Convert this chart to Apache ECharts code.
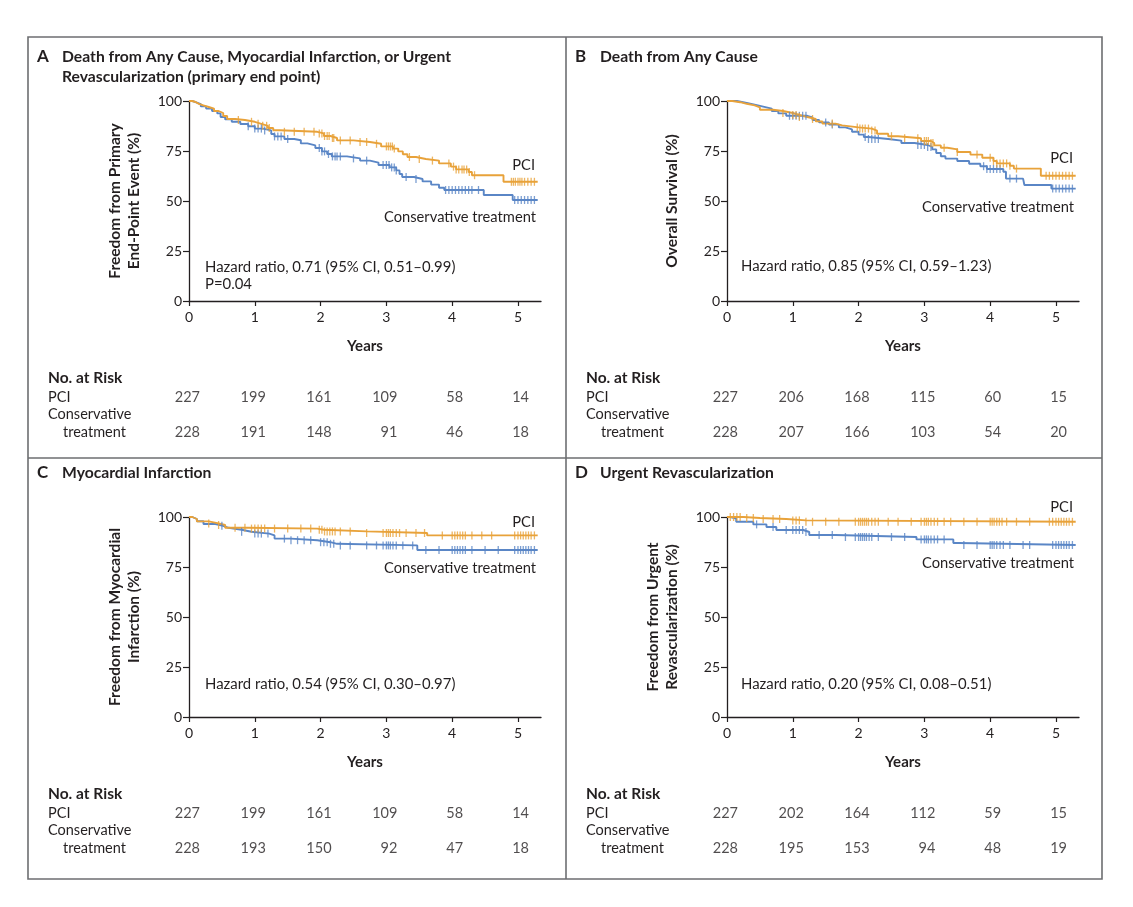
<!DOCTYPE html>
<html><head><meta charset="utf-8">
<script src="https://cdn.jsdelivr.net/npm/echarts@6/dist/echarts.min.js"></script>
<style>html,body{margin:0;padding:0;background:#fff}#c{width:1133px;height:907px}</style>
</head><body><div id="c"></div>
<script>
// ---------- data ----------
const yearTicks = [0, 1, 2, 3, 4, 5];
const pctTicks = [0, 25, 50, 75, 100];
const groupNames = ['PCI', 'Conservative treatment'];

// Panel A: primary end point
const aPCI = [[0,100],[0.05,99.5],[0.1,98.6],[0.15,97.8],[0.22,97],[0.3,96.2],[0.38,95],[0.45,94],[0.52,92.5],[0.58,91],[0.7,90.5],[0.85,89.6],[1.0,88.6],[1.1,87.6],[1.2,86.5],[1.28,85.4],[1.38,84.6],[1.95,83.8],[2.05,82.5],[2.15,81.5],[2.25,80.3],[2.5,79.5],[2.75,78.6],[2.92,77.3],[3.1,76.2],[3.18,74.8],[3.25,73.4],[3.32,72],[3.45,71],[3.6,70.2],[3.8,68.8],[3.98,67.2],[4.06,65.8],[4.25,64.5],[4.3,62.9],[4.78,59.6],[5.3,59.6]];
const aCons = [[0,100],[0.05,99.4],[0.1,98.4],[0.18,97.3],[0.26,96.2],[0.35,95],[0.43,93.8],[0.48,92],[0.55,90.8],[0.65,89.6],[0.78,88.5],[0.9,87.4],[1.0,86.2],[1.12,85.3],[1.25,83.5],[1.3,82.3],[1.45,81],[1.6,80.4],[1.7,78.8],[1.8,77.8],[1.92,76.5],[2.02,74.8],[2.1,73.5],[2.17,72.3],[2.4,71.3],[2.6,70.2],[2.75,69.2],[2.88,68],[3.05,66.8],[3.15,65.3],[3.2,63.5],[3.24,62],[3.42,61],[3.55,59.8],[3.68,58.2],[3.8,56.6],[3.88,55.5],[4.48,53],[4.92,50.5],[5.3,50.5]];
const aPCICensor = [0.75,0.95,1.05,1.12,1.18,1.22,1.45,1.6,1.75,1.9,1.98,2.02,2.06,2.1,2.13,2.18,2.2,2.3,2.45,2.6,2.7,2.85,3.0,3.03,3.06,3.09,3.12,3.35,3.5,3.7,3.95,4.02,4.06,4.1,4.15,4.18,4.22,4.26,4.34,4.9,4.93,4.96,5.0,5.03,5.06,5.1,5.15,5.2,5.25];
const aConsCensor = [0.9,1.0,1.05,1.1,1.15,1.3,1.35,1.4,1.5,1.98,2.02,2.06,2.12,2.18,2.22,2.25,2.3,2.5,2.7,2.95,3.0,3.04,3.08,3.12,3.15,3.3,3.45,3.9,3.95,4.0,4.05,4.1,4.15,4.2,4.25,4.3,4.4,4.95,5.0,5.05,5.1,5.15,5.2,5.25];
const aRiskPCI = [227, 199, 161, 109, 58, 14];
const aRiskCons = [228, 191, 148, 91, 46, 18];

// Panel B: death from any cause
const bPCI = [[0,100],[0.08,99.4],[0.2,98.6],[0.3,97.8],[0.42,96.8],[0.5,95.6],[0.7,95],[0.85,94],[1.0,93],[1.1,92],[1.22,91],[1.35,89.8],[1.45,88.7],[1.65,87.8],[1.75,86.8],[2.0,86.2],[2.2,85.2],[2.28,83.6],[2.45,82.4],[2.6,81.4],[2.95,80],[3.1,79],[3.15,77.8],[3.25,76.6],[3.35,75.8],[3.5,74.5],[3.7,73.2],[3.88,71.6],[4.05,70],[4.1,68.8],[4.3,67.6],[4.36,66.2],[4.77,62.6],[5.3,62.6]];
const bCons = [[0,100],[0.15,99],[0.3,98.2],[0.42,97.2],[0.55,96.2],[0.68,95],[0.78,93.8],[0.9,92.6],[1.22,91.8],[1.3,90.5],[1.4,89.3],[1.55,88.2],[1.7,86.8],[1.8,85.8],[1.9,84.6],[2.0,83.2],[2.08,82],[2.15,81],[2.45,80.2],[2.65,79],[2.85,78],[3.05,77],[3.12,75.8],[3.18,74],[3.25,72.4],[3.32,71.2],[3.5,70],[3.68,68.6],[3.85,67.4],[3.95,66],[4.2,64.6],[4.24,61.2],[4.5,60.4],[4.52,58],[4.93,56.2],[5.3,56.2]];
const bPCICensor = [0.85,1.0,1.05,1.1,1.3,1.6,1.98,2.02,2.06,2.1,2.15,2.2,2.25,2.5,2.7,2.9,3.0,3.03,3.06,3.1,3.13,3.3,3.5,3.8,4.0,4.05,4.1,4.15,4.2,4.25,4.3,4.4,4.85,4.9,4.95,5.0,5.05,5.1,5.15,5.2,5.25];
const bConsCensor = [0.95,1.0,1.05,1.1,1.15,1.2,1.5,1.6,2.1,2.15,2.2,2.25,2.3,2.9,2.95,3.0,3.05,3.1,3.9,3.95,4.0,4.05,4.1,4.15,4.3,4.4,4.95,5.0,5.05,5.1,5.15,5.2,5.25];
const bRiskPCI = [227, 206, 168, 115, 60, 15];
const bRiskCons = [228, 207, 166, 103, 54, 20];

// Panel C: myocardial infarction
const cPCI = [[0,100],[0.05,99],[0.12,97.8],[0.3,96.8],[0.45,96],[0.55,94.6],[0.9,94.2],[1.95,93.6],[2.05,92.8],[2.7,92],[3.62,90.8],[5.3,90.8]];
const cCons = [[0,100],[0.05,99],[0.12,97.9],[0.22,96.5],[0.4,95.6],[0.52,94.6],[0.6,93.6],[0.8,92.6],[0.95,91.7],[1.22,90.8],[1.3,89.2],[1.55,88.4],[1.95,87.4],[2.15,86.6],[2.25,85.8],[3.47,83.5],[5.3,83.5]];
const cPCICensor = [0.3,0.45,0.7,0.85,0.95,1.0,1.05,1.1,1.15,1.3,1.5,1.7,1.85,1.98,2.02,2.06,2.1,2.14,2.18,2.22,2.3,2.45,2.7,2.95,3.0,3.03,3.06,3.1,3.15,3.2,3.3,3.45,3.58,3.85,4.0,4.04,4.08,4.12,4.16,4.2,4.3,4.45,4.6,4.95,5.0,5.04,5.08,5.12,5.16,5.2,5.25];
const cConsCensor = [0.5,0.8,1.0,1.05,1.1,1.2,1.45,1.55,1.65,1.75,1.85,2.0,2.05,2.1,2.15,2.2,2.3,2.45,2.7,2.85,2.95,3.0,3.03,3.06,3.1,3.15,3.25,3.4,3.6,3.8,4.0,4.04,4.08,4.12,4.16,4.2,4.3,4.5,4.7,4.95,5.0,5.04,5.08,5.12,5.16,5.2,5.25];
const cRiskPCI = [227, 199, 161, 109, 58, 14];
const cRiskCons = [228, 193, 150, 92, 47, 18];

// Panel D: urgent revascularization
const dPCI = [[0,100],[0.25,99.5],[0.5,99],[0.9,98.3],[1.2,97.6],[5.3,97.6]];
const dCons = [[0,100],[0.05,99.2],[0.14,97.6],[0.4,96.3],[0.6,95],[0.75,93.5],[1.16,92.5],[1.25,91],[1.65,90],[2.88,88.8],[3.44,87],[3.52,86],[5.3,86]];
const dPCICensor = [0.05,0.1,0.15,0.2,0.3,0.4,0.55,0.7,0.8,1.0,1.05,1.1,1.2,1.3,1.5,1.7,1.95,2.0,2.03,2.06,2.09,2.12,2.15,2.2,2.25,2.3,2.45,2.6,2.8,2.95,3.0,3.03,3.06,3.1,3.15,3.2,3.3,3.4,3.6,3.8,4.0,4.03,4.06,4.1,4.14,4.18,4.25,4.4,4.6,4.9,4.95,5.0,5.04,5.08,5.12,5.16,5.2,5.25];
const dConsCensor = [0.45,0.7,0.9,1.0,1.05,1.1,1.15,1.2,1.4,1.6,1.8,1.95,2.0,2.03,2.06,2.09,2.12,2.16,2.2,2.3,2.5,2.7,2.95,3.0,3.03,3.06,3.1,3.15,3.2,3.3,3.6,3.8,4.0,4.03,4.06,4.1,4.15,4.2,4.3,4.5,4.6,4.95,5.0,5.04,5.08,5.12,5.16,5.2,5.25];
const dRiskPCI = [227, 202, 164, 112, 59, 15];
const dRiskCons = [228, 195, 153, 94, 48, 19];

// ---------- layout / styling ----------
const FONT = 'Lato';
const ORANGE = '#E8A23A';
const BLUE = '#5A86C6';
const INK = '#231F20';

const panels = [
  { letter: 'A', title: ['Death from Any Cause, Myocardial Infarction, or Urgent', 'Revascularization (primary end point)'],
    yName: 'Freedom from Primary\nEnd-Point Event (%)', hr: ['Hazard ratio, 0.71 (95% CI, 0.51\u20130.99)', 'P=0.04'],
    pci: aPCI, cons: aCons, pciC: aPCICensor, consC: aConsCensor, rP: aRiskPCI, rC: aRiskCons,
    ox: 0, oy: 0, pciLabelY: 165, consLabelY: 217, hrY: 267 },
  { letter: 'B', title: ['Death from Any Cause'],
    yName: 'Overall Survival (%)', hr: ['Hazard ratio, 0.85 (95% CI, 0.59\u20131.23)'],
    pci: bPCI, cons: bCons, pciC: bPCICensor, consC: bConsCensor, rP: bRiskPCI, rC: bRiskCons,
    ox: 538, oy: 0, pciLabelY: 158, consLabelY: 207, hrY: 266 },
  { letter: 'C', title: ['Myocardial Infarction'],
    yName: 'Freedom from Myocardial\nInfarction (%)', hr: ['Hazard ratio, 0.54 (95% CI, 0.30\u20130.97)'],
    pci: cPCI, cons: cCons, pciC: cPCICensor, consC: cConsCensor, rP: cRiskPCI, rC: cRiskCons,
    ox: 0, oy: 416, pciLabelY: 522 - 416, consLabelY: 568 - 416, hrY: 684 - 416 },
  { letter: 'D', title: ['Urgent Revascularization'],
    yName: 'Freedom from Urgent\nRevascularization (%)', hr: ['Hazard ratio, 0.20 (95% CI, 0.08\u20130.51)'],
    pci: dPCI, cons: dCons, pciC: dPCICensor, consC: dConsCensor, rP: dRiskPCI, rC: dRiskCons,
    ox: 538, oy: 416, pciLabelY: 507 - 416, consLabelY: 563 - 416, hrY: 684 - 416 }
];

function survAt(curve, t) {
  let s = curve[0][1];
  for (const p of curve) { if (p[0] <= t) s = p[1]; else break; }
  return s;
}

const grid = [], xAxis = [], yAxis = [], series = [], graphic = [];
const X_MAX = 5.35;

panels.forEach((p, i) => {
  const gi = i * 2, ri = i * 2 + 1;
  const left = 189 + p.ox, top = 101 + p.oy;
  grid.push({ left: left, top: top, width: 352, height: 200 });
  grid.push({ left: left, top: 397 + p.oy, width: 352, height: 35 });
  xAxis.push({
    gridIndex: gi, type: 'value', min: 0, max: X_MAX,
    name: 'Years', nameLocation: 'middle', nameGap: 38,
    nameTextStyle: { fontFamily: FONT, fontWeight: 'bold', fontSize: 15, color: INK },
    axisLine: { lineStyle: { color: INK, width: 1.3 } },
    axisTick: { length: 5, lineStyle: { color: INK, width: 1.2 }, customValues: yearTicks },
    axisLabel: { fontFamily: FONT, fontSize: 14, color: INK, margin: 9, customValues: yearTicks },
    splitLine: { show: false }
  });
  xAxis.push({ gridIndex: ri, type: 'value', min: 0, max: X_MAX, show: false });
  yAxis.push({
    gridIndex: gi, type: 'value', min: 0, max: 100, interval: 25,
    name: p.yName, nameLocation: 'middle', nameGap: 46,
    nameTextStyle: { fontFamily: FONT, fontWeight: 'bold', fontSize: 15.5, color: INK, lineHeight: 19 },
    axisLine: { show: true, lineStyle: { color: INK, width: 1.3 } },
    axisTick: { show: true, length: 6, lineStyle: { color: INK, width: 1.2 } },
    axisLabel: { fontFamily: FONT, fontSize: 14, color: INK, margin: 7 },
    splitLine: { show: false }
  });
  yAxis.push({ gridIndex: ri, type: 'value', min: 0, max: 1, show: false });

  // KM curves (step after)
  [[p.cons, BLUE, groupNames[1]], [p.pci, ORANGE, groupNames[0]]].forEach(([d, col, nm]) => {
    series.push({ type: 'line', name: nm, xAxisIndex: gi, yAxisIndex: gi, data: d, step: 'end',
      showSymbol: false, symbol: 'none', lineStyle: { color: col, width: 1.9 }, silent: true, z: 3 });
  });
  // censor marks
  [[p.cons, p.consC, BLUE], [p.pci, p.pciC, ORANGE]].forEach(([d, cs, col]) => {
    series.push({ type: 'scatter', xAxisIndex: gi, yAxisIndex: gi,
      data: cs.map(t => [t, survAt(d, t)]), symbol: 'rect', symbolSize: [1.3, 8],
      itemStyle: { color: col }, silent: true, z: 4 });
  });
  // risk table numbers
  const riskData = yearTicks.map((t, k) => [t, 1, p.rP[k]]).concat(yearTicks.map((t, k) => [t, 0, p.rC[k]]));
  series.push({ type: 'scatter', xAxisIndex: ri, yAxisIndex: ri, data: riskData, symbolSize: 2,
    itemStyle: { color: 'rgba(255,255,255,0)' }, silent: true,
    label: { show: true, position: 'inside', align: 'right', verticalAlign: 'middle', offset: [11, 0],
      formatter: q => String(q.value[2]), fontFamily: FONT, fontSize: 14.5, color: INK } });

  // titles
  const tx = 37 + p.ox, ty = 57 + p.oy;
  graphic.push({ type: 'text', x: tx, y: ty, style: { text: p.letter, font: 'bold 17px ' + FONT, fill: INK, verticalAlign: 'middle' } });
  p.title.forEach((line, k) => {
    graphic.push({ type: 'text', x: tx + 25, y: ty + k * 20, style: { text: line, font: 'bold 15.7px ' + FONT, fill: INK, verticalAlign: 'middle' } });
  });
  // hazard ratio text
  p.hr.forEach((line, k) => {
    graphic.push({ type: 'text', x: left + 16 - (p.ox ? 2 : 0), y: p.hrY + p.oy + k * 17,
      style: { text: line, font: '14.9px ' + FONT, fill: INK, verticalAlign: 'middle' } });
  });
  // curve labels
  graphic.push({ type: 'text', x: 535 + p.ox, y: p.pciLabelY + p.oy, style: { text: groupNames[0], font: '14.7px ' + FONT, fill: INK, align: 'right', verticalAlign: 'middle' } });
  graphic.push({ type: 'text', x: 536 + p.ox, y: p.consLabelY + p.oy, style: { text: groupNames[1], font: '14.7px ' + FONT, fill: INK, align: 'right', verticalAlign: 'middle' } });
  // risk table row headers
  const rx = 48 + p.ox;
  graphic.push({ type: 'text', x: rx, y: 378 + p.oy, style: { text: 'No. at Risk', font: 'bold 15.5px ' + FONT, fill: INK, verticalAlign: 'middle' } });
  graphic.push({ type: 'text', x: rx, y: 397 + p.oy, style: { text: 'PCI', font: '14.5px ' + FONT, fill: INK, verticalAlign: 'middle' } });
  graphic.push({ type: 'text', x: rx, y: 414 + p.oy, style: { text: 'Conservative', font: '14.5px ' + FONT, fill: INK, verticalAlign: 'middle' } });
  graphic.push({ type: 'text', x: rx + 15, y: 432 + p.oy, style: { text: 'treatment', font: '14.5px ' + FONT, fill: INK, verticalAlign: 'middle' } });
});

// frame
graphic.push({ type: 'rect', shape: { x: 28, y: 37, width: 1074, height: 842 }, style: { fill: 'none', stroke: '#6d6e71', lineWidth: 1.6 } });
graphic.push({ type: 'line', shape: { x1: 566, y1: 37, x2: 566, y2: 879 }, style: { stroke: '#6d6e71', lineWidth: 1.6 } });
graphic.push({ type: 'line', shape: { x1: 28, y1: 458, x2: 1102, y2: 458 }, style: { stroke: '#6d6e71', lineWidth: 1.6 } });

const chart = echarts.init(document.getElementById('c'), null, { renderer: 'canvas' });
chart.setOption({
  animation: false,
  backgroundColor: '#fff',
  textStyle: { fontFamily: FONT },
  grid: grid, xAxis: xAxis, yAxis: yAxis, series: series, graphic: graphic
});
</script>
</body></html>
